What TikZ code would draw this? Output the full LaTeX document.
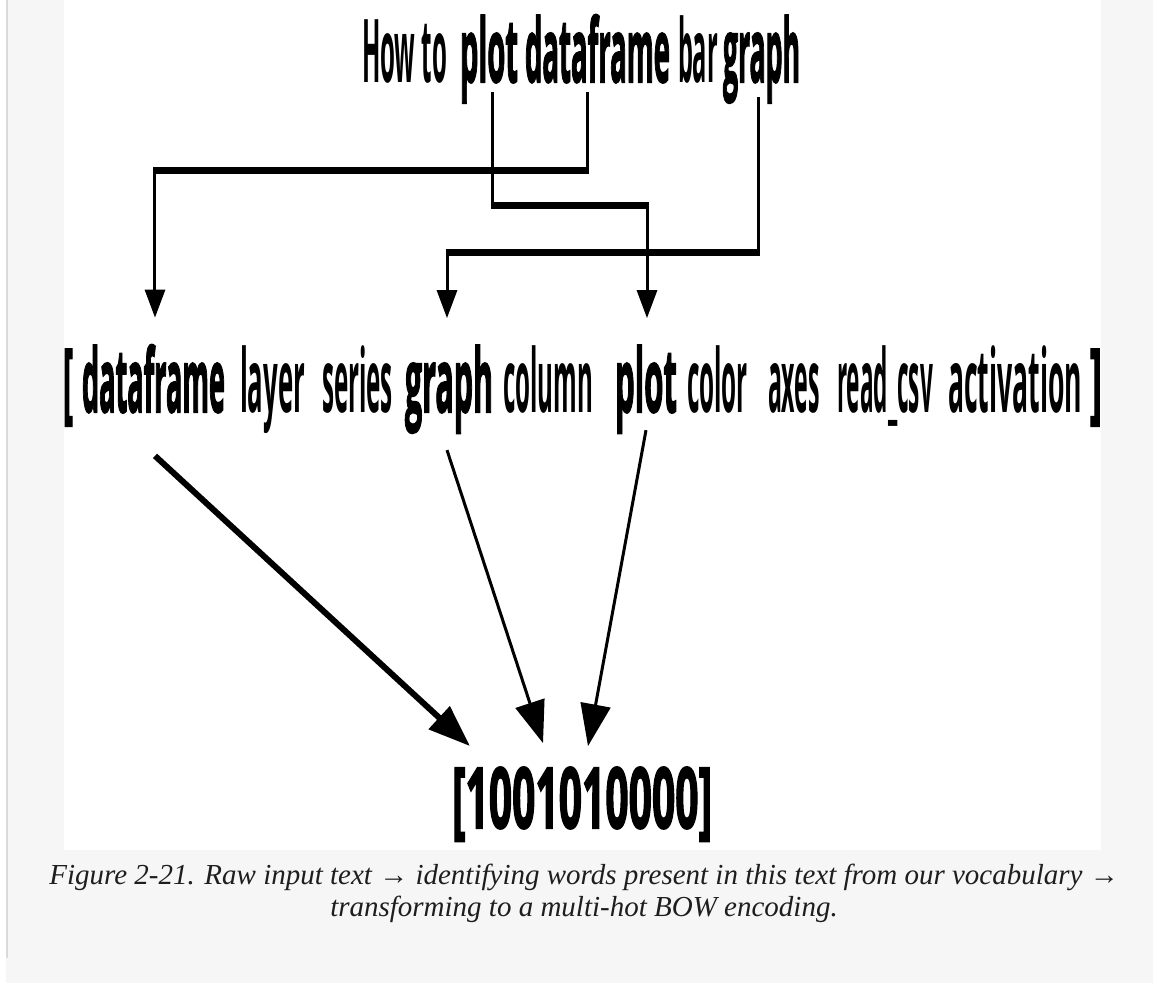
\documentclass[tikz,border=0pt]{standalone}
\usepackage{fontspec}
\usepackage{graphicx}
\setmainfont{Liberation Serif}
\newfontfamily\osmed{Open Sans}
\newfontfamily\osheavy{Open Sans}[BoldFeatures={FakeBold=2.5}]
\usetikzlibrary{arrows.meta,calc}
\definecolor{bggray}{HTML}{F6F6F6}
\definecolor{bordergray}{HTML}{DADADA}
\definecolor{captext}{HTML}{1E1E1E}
% regular-looking words (medium weight), bold words (heavy)
\newcommand{\rword}[3]{\resizebox{#1pt}{\height}{\fontsize{#2pt}{#2pt}\selectfont\osmed\bfseries #3}}
\newcommand{\hword}[3]{\resizebox{#1pt}{\height}{\fontsize{#2pt}{#2pt}\selectfont\osheavy\bfseries #3}}
\begin{document}
\begin{tikzpicture}[x=1pt,y=-1pt,
  word/.style={inner sep=0pt, outer sep=0pt, anchor=base west},
  vconn/.style={line width=3pt, line join=miter},
  hconn/.style={line width=7pt, line cap=butt, shorten <=-1.5pt, shorten >=-1.5pt},
  toptip/.style={-{Triangle[length=28pt,width=20pt]}},
  bottip/.style={-{Triangle[length=42pt,width=30pt]}},
  capline/.style={font=\fontsize{29pt}{34pt}\selectfont\itshape, text=captext, anchor=base, inner sep=0pt}]
\useasboundingbox (0,0) rectangle (1153,983);
% page background
\fill[bggray] (0,0) rectangle (1153,983);
\fill[white] (0,0) rectangle (6,983);
\fill[white] (64,0) rectangle (1101,850);
\draw[bordergray, line width=2.5pt] (7,0) -- (7,958);

% title
\node[word] (howT)   at (362,82) {\rword{85}{88}{How to}};
\node[word] (plotT)  at (460,82) {\hword{58}{88}{plot}};
\node[word] (dfT)    at (525,82) {\hword{145}{88}{dataframe}};
\node[word] (barT)   at (678,82) {\rword{40}{88}{bar}};
\node[word] (graphT) at (723,82) {\hword{77}{88}{graph}};

% vocabulary row
\node[word] (lbr)    at (63,412)  {\hword{10}{88}{[}};
\node[word] (dfM)    at (82,412)  {\hword{143}{88}{dataframe}};
\node[word] (layerM) at (240,412) {\rword{65}{88}{layer}};
\node[word] (serM)   at (322,412) {\rword{71}{88}{series}};
\node[word] (graphM) at (405,412) {\hword{88}{88}{graph}};
\node[word] (colM)   at (503,412) {\rword{90}{88}{column}};
\node[word] (plotM)  at (615,412) {\hword{62}{88}{plot}};
\node[word] (colorM) at (687,412) {\rword{61}{88}{color}};
\node[word] (axesM)  at (768,412) {\rword{52}{88}{axes}};
\node[word] (readM)  at (837,412) {\rword{96}{88}{read\_csv}};
\node[word] (actM)   at (948,412) {\rword{134}{88}{activation}};
\node[word] (rbr)    at (1090,412){\hword{12}{88}{]}};

% encoding
\node[word] (vec) at (452,828) {\hword{260}{84}{[1001010000]}};

% elbow connectors: title -> vocabulary
\coordinate (s1) at (587,92);  \coordinate (e1) at (587,170);
\coordinate (t1) at ($(dfM.north)+(1.5,-27)$);
\coordinate (h1) at (e1 -| t1);
\draw[vconn,toptip] (s1) -- (e1) -| (t1);
\draw[hconn] (e1) -- (h1);

\coordinate (s2) at (492,92);  \coordinate (e2) at (492,205);
\coordinate (t2) at ($(plotM.north)+(1,-27)$);
\coordinate (h2) at (e2 -| t2);
\draw[vconn,toptip] (s2) -- (e2) -| (t2);
\draw[hconn] (e2) -- (h2);

\coordinate (s3) at (758,97);  \coordinate (e3) at (758,252);
\coordinate (t3) at ($(graphM.north)+(-2,-27)$);
\coordinate (h3) at (e3 -| t3);
\draw[vconn,toptip] (s3) -- (e3) -| (t3);
\draw[hconn] (e3) -- (h3);

% vocabulary -> encoding
\coordinate (b1) at ($(dfM.south)+(1.5,43)$);
\coordinate (v1) at ($(vec.north west)+(18,-21)$);
\draw[line width=6pt,bottip] (b1) -- (v1);
\coordinate (b2) at ($(graphM.south)+(-2,17)$);
\coordinate (v2) at ($(vec.north west)+(91,-24)$);
\draw[line width=3pt,bottip] (b2) -- (v2);
\coordinate (b3) at ($(plotM.south)+(0,-3)$);
\coordinate (v3) at ($(vec.north west)+(136,-21)$);
\draw[line width=3pt,bottip] (b3) -- (v3);

% caption
\node[capline] (cap1) at (584,884) {Figure 2-21. Raw input text → identifying words present in this text from our vocabulary →};
\node[capline] (cap2) at (584,916) {transforming to a multi-hot BOW encoding.};
\end{tikzpicture}
\end{document}
